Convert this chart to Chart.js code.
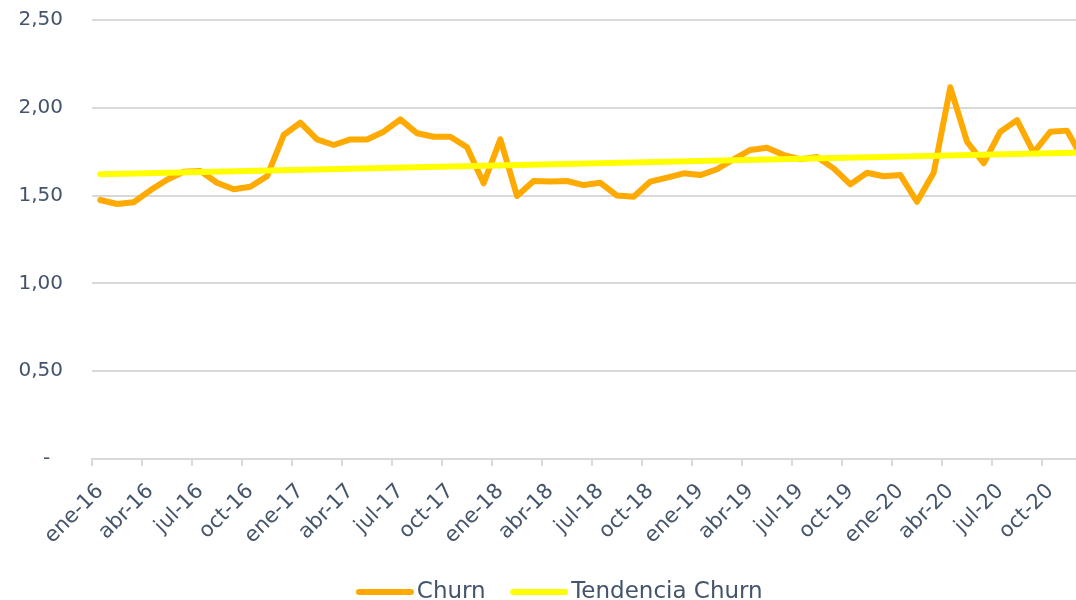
<!DOCTYPE html>
<html>
<head>
<meta charset="utf-8">
<script src="https://cdn.jsdelivr.net/npm/chart.js@4/dist/chart.umd.min.js"></script>
<style>
    html, body { margin: 0; padding: 0; background: #fff; overflow: hidden; }
    #wrap { width: 1130px; height: 600px; }
</style>
</head>
<body>
<div id="wrap"><canvas id="churn-chart" width="1130" height="600"></canvas></div>
<script>
// Meses y años del eje de categorías
const meses = ['ene', 'feb', 'mar', 'abr', 'may', 'jun', 'jul', 'ago', 'sep', 'oct', 'nov', 'dic'];
const anios = ['16', '17', '18', '19', '20'];

// Churn mensual por año (%)
const churn2016 = [1.475, 1.452, 1.462, 1.53, 1.59, 1.636, 1.64, 1.573, 1.536, 1.55, 1.61, 1.845];
const churn2017 = [1.915, 1.82, 1.788, 1.82, 1.82, 1.864, 1.934, 1.855, 1.835, 1.835, 1.775, 1.57];
const churn2018 = [1.82, 1.498, 1.583, 1.58, 1.583, 1.56, 1.573, 1.50, 1.494, 1.58, 1.602, 1.627];
const churn2019 = [1.617, 1.65, 1.707, 1.76, 1.773, 1.731, 1.707, 1.72, 1.655, 1.564, 1.63, 1.61];
const churn2020 = [1.617, 1.465, 1.63, 2.117, 1.807, 1.684, 1.864, 1.93, 1.745, 1.864, 1.87, 1.70];

// Tendencia lineal: valores en el primer y último mes
const tendenciaInicio = 1.622;
const tendenciaFin = 1.745;

// Eje Y
const yMin = 0;
const yMax = 2.5;
const yPaso = 0.5;

const etiquetas = [];
anios.forEach(a => meses.forEach(m => etiquetas.push(`${m}-${a}`)));

const churn = [].concat(churn2016, churn2017, churn2018, churn2019, churn2020);

// Sólo los extremos; spanGaps une la recta
const tendencia = churn.map((_, i) => {
    if (i === 0) return tendenciaInicio;
    if (i === churn.length - 1) return tendenciaFin;
    return null;
});

const textoColor = '#44546A';
const gridColor = '#d9d9d9';
const fuente = 'DejaVu Sans';
const naranja = '#FFAA00';
const amarillo = '#FFFF00';

// Muestra de leyenda: trazo grueso pegado al texto
function muestraLeyenda(color) {
    const c = document.createElement('canvas');
    c.width = 63;
    c.height = 8;
    const g = c.getContext('2d');
    g.strokeStyle = color;
    g.lineWidth = 6;
    g.lineCap = 'round';
    g.beginPath();
    g.moveTo(8, 4);
    g.lineTo(60, 4);
    g.stroke();
    return c;
}

// La leyenda va algo a la derecha del centro del área
const moverLeyenda = {
    id: 'moverLeyenda',
    afterLayout(chart) {
        chart.legend.left += 6;
        chart.legend.right += 6;
    }
};

const ctx = document.getElementById('churn-chart').getContext('2d');

new Chart(ctx, {
    type: 'line',
    data: {
        labels: etiquetas,
        datasets: [
            {
                label: 'Churn',
                data: churn,
                borderColor: naranja,
                backgroundColor: naranja,
                borderWidth: 6,
                borderCapStyle: 'round',
                borderJoinStyle: 'round',
                pointRadius: 0,
                pointStyle: muestraLeyenda(naranja),
                tension: 0,
                order: 2
            },
            {
                label: 'Tendencia Churn',
                data: tendencia,
                borderColor: amarillo,
                backgroundColor: amarillo,
                borderWidth: 6,
                borderCapStyle: 'round',
                pointRadius: 0,
                pointStyle: muestraLeyenda(amarillo),
                spanGaps: true,
                tension: 0,
                order: 1
            }
        ]
    },
    plugins: [moverLeyenda],
    options: {
        responsive: false,
        animation: false,
        devicePixelRatio: 1,
        layout: {
            padding: { left: 18, right: 38, top: 20, bottom: -13.5 }
        },
        plugins: {
            tooltip: { enabled: false },
            legend: {
                position: 'bottom',
                labels: {
                    usePointStyle: true,
                    pointStyleWidth: 46,
                    padding: 28,
                    color: textoColor,
                    font: { family: fuente, size: 23 },
                    sort: (a, b) => a.datasetIndex - b.datasetIndex
                }
            }
        },
        scales: {
            x: {
                offset: true,
                afterFit: (scale) => { scale.height = 93.5; },
                grid: {
                    offset: true,
                    drawOnChartArea: false,
                    tickLength: 7,
                    lineWidth: 2,
                    color: (c) => (c.index % 3 === 0 ? gridColor : 'rgba(0,0,0,0)')
                },
                border: { color: gridColor, width: 2 },
                ticks: {
                    autoSkip: false,
                    minRotation: 45,
                    maxRotation: 45,
                    padding: 13,
                    color: textoColor,
                    font: { family: fuente, size: 21 },
                    callback: function (v, i) {
                        return i % 3 === 0 ? this.getLabelForValue(v) : '';
                    }
                }
            },
            y: {
                min: yMin,
                max: yMax,
                afterFit: (scale) => {
                    scale.width = 74;
                    scale.paddingTop = 0;
                    scale.paddingBottom = 0;
                },
                grid: {
                    color: gridColor,
                    lineWidth: 2,
                    drawTicks: false
                },
                border: { display: false },
                ticks: {
                    stepSize: yPaso,
                    padding: 29,
                    color: textoColor,
                    font: { family: fuente, size: 20 },
                    callback: (v) => (v === 0 ? '-\u00a0\u00a0' : v.toFixed(2).replace('.', ','))
                }
            }
        }
    }
});
</script>
</body>
</html>
